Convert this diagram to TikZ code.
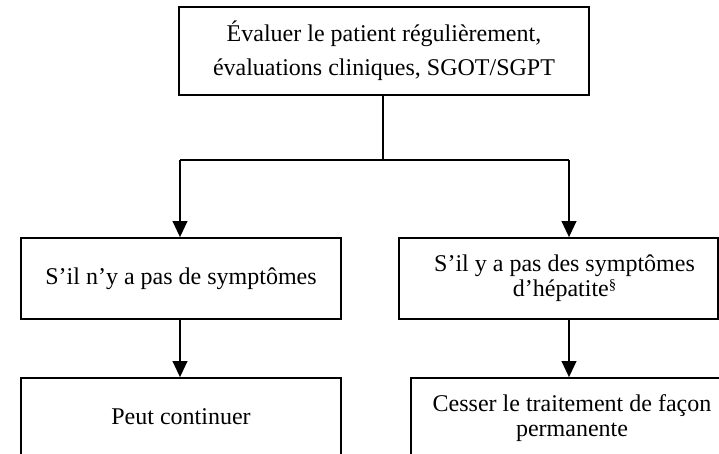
\documentclass[tikz,border=0pt]{standalone}
\usepackage{fontspec}
\setmainfont{Liberation Serif}
\usetikzlibrary{arrows.meta}
\tikzset{
  box/.style={draw, line width=1.3pt, inner sep=0pt, align=center, font=\fontsize{18}{18.75}\selectfont},
  arr/.style={line width=1.3pt, -{Triangle[length=12pt,width=11pt]}},
  ln/.style={line width=1.3pt}
}
\begin{document}
\begin{tikzpicture}[x=0.75pt,y=-0.75pt]
\useasboundingbox (0,0) rectangle (719,454);
\clip (0,0) rectangle (719,454);
\node[box, font=\fontsize{18}{25.5}\selectfont, minimum width=307pt, minimum height=66pt] (top) at (384,51)
  {Évaluer le patient régulièrement,\\ évaluations cliniques, SGOT/SGPT};
\node[box, minimum width=240pt, minimum height=60.75pt] (lm) at (181,278.5) {S’il n’y a pas de symptômes};
\node[box, minimum width=239.25pt, minimum height=60.75pt] (rm) at (558.5,278.5) {\hspace*{9pt}S’il y a pas des symptômes\\\hspace*{9pt}d’hépatite\raisebox{5.5pt}{\fontsize{11}{11}\selectfont§}};
\node[box, minimum width=240pt, minimum height=60.75pt] (lb) at (181,418.5) {\raisebox{3pt}{Peut continuer}};
\node[box, minimum width=241.5pt, minimum height=60.75pt] (rb) at (572,418.5) {Cesser le traitement de façon\\ permanente};
\coordinate (j) at (383,160);
\coordinate (jl) at (180,160);
\coordinate (jr) at (569,160);
\draw[ln] (top.south -| j) -- (j);
\draw[ln] (jl) -- (jr);
\draw[arr] (jl) -- (jl |- lm.north);
\draw[arr] (jr) -- (jr |- rm.north);
\draw[arr] (jl |- lm.south) -- (jl |- lb.north);
\draw[arr] (jr |- rm.south) -- (jr |- rb.north);
\end{tikzpicture}
\end{document}
